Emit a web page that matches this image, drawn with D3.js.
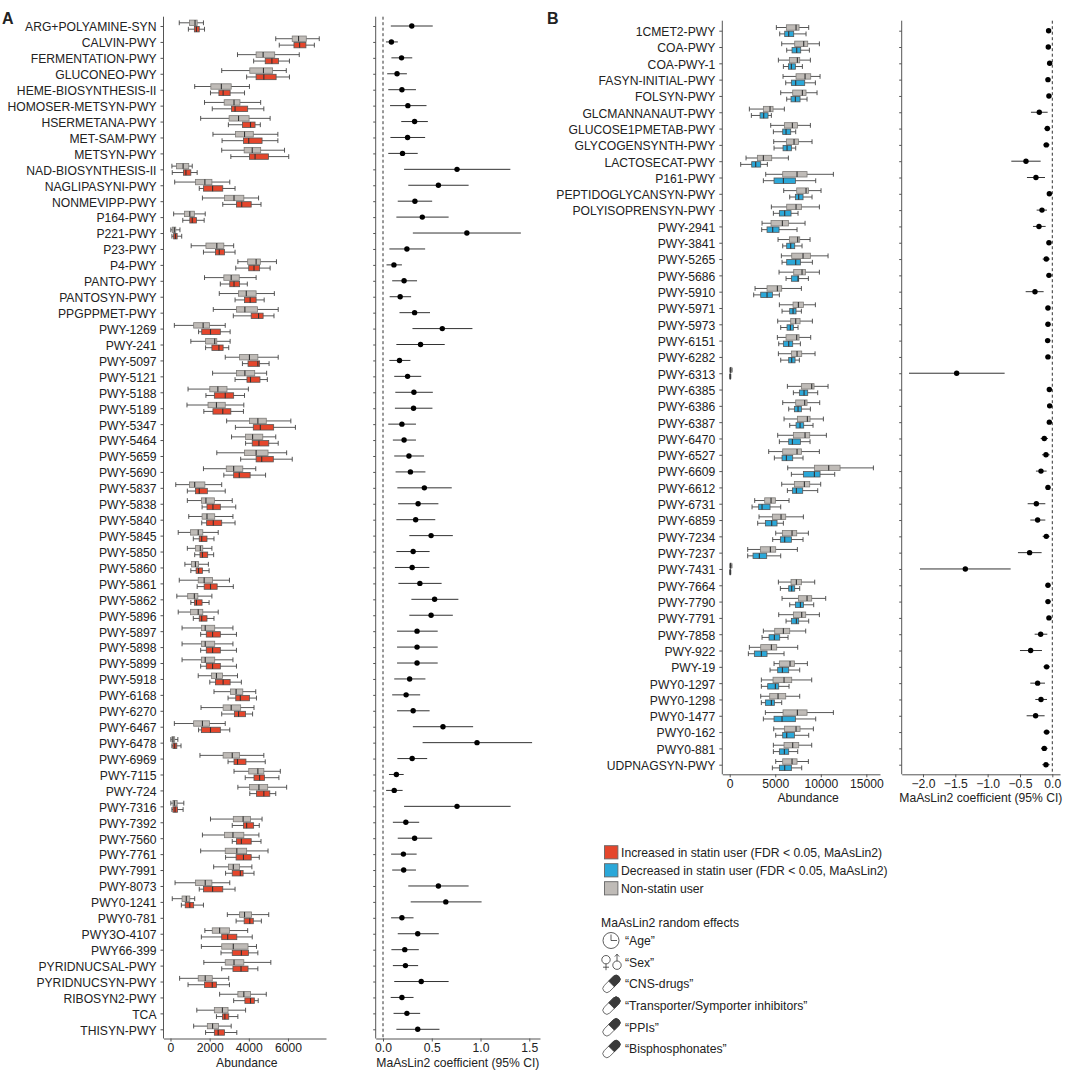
<!DOCTYPE html>
<html>
<head>
    <meta charset="utf-8">
    <style>
        html, body { margin: 0; padding: 0; background: #fff; }
        svg { display: block; }
        text { font-family: "Liberation Sans", Arial, sans-serif; fill: #222; }
        .axis text { font-size: 12.15px; fill: #222; }
        .axis path, .axis line { stroke: #555; stroke-width: 1; }
    </style>
</head>
<body>
    <svg width="1065" height="1071"></svg>

    <script src="https://d3js.org/d3.v7.min.js"></script>
    <script>
        // Panel A: pathways increased in statin users
        const pathwaysA = ["ARG+POLYAMINE-SYN","CALVIN-PWY","FERMENTATION-PWY","GLUCONEO-PWY","HEME-BIOSYNTHESIS-II","HOMOSER-METSYN-PWY","HSERMETANA-PWY","MET-SAM-PWY","METSYN-PWY","NAD-BIOSYNTHESIS-II","NAGLIPASYNI-PWY","NONMEVIPP-PWY","P164-PWY","P221-PWY","P23-PWY","P4-PWY","PANTO-PWY","PANTOSYN-PWY","PPGPPMET-PWY","PWY-1269","PWY-241","PWY-5097","PWY-5121","PWY-5188","PWY-5189","PWY-5347","PWY-5464","PWY-5659","PWY-5690","PWY-5837","PWY-5838","PWY-5840","PWY-5845","PWY-5850","PWY-5860","PWY-5861","PWY-5862","PWY-5896","PWY-5897","PWY-5898","PWY-5899","PWY-5918","PWY-6168","PWY-6270","PWY-6467","PWY-6478","PWY-6969","PWY-7115","PWY-724","PWY-7316","PWY-7392","PWY-7560","PWY-7761","PWY-7991","PWY-8073","PWY0-1241","PWY0-781","PWY3O-4107","PWY66-399","PYRIDNUCSAL-PWY","PYRIDNUCSYN-PWY","RIBOSYN2-PWY","TCA","THISYN-PWY"];

        // whisker low, q1, median, q3, whisker high
        const nonStatinA = [[448,968,1254,1362,1684],[5375,6217,6540,6935,7598],[3422,4372,4731,5322,6576],[2616,4050,4749,5215,5914],[1236,2061,2598,3100,4032],[1738,2742,3244,3548,4605],[1541,2993,3476,4014,5089],[2168,3315,3781,4229,5484],[2616,3763,4175,4605,5824],[72,305,645,932,1111],[215,1272,1756,2115,3028],[1631,2760,3244,3745,4498],[161,717,986,1219,1774],[18,90,197,269,484],[1057,1810,2365,2724,3226],[3441,3942,4373,4588,5412],[1738,2724,3100,3512,4373],[2491,3476,3871,4373,5304],[2186,3369,3799,4444,5501],[197,1183,1667,1989,2796],[1039,1792,2258,2365,3046],[2796,3530,4032,4462,5501],[2150,3369,3799,4301,4910],[896,2007,2419,2885,3978],[842,1917,2347,2796,3745],[2867,4032,4462,4892,6147],[3118,3835,4193,4713,5376],[2365,3781,4373,4982,5932],[1684,2849,3226,3692,4355],[269,968,1236,1756,2616],[860,1577,1810,2240,3154],[932,1613,1864,2258,3190],[394,1021,1416,1649,2437],[860,1272,1523,1649,2115],[735,1075,1272,1434,1935],[448,1416,1720,2150,3011],[323,878,1219,1398,2115],[394,1021,1416,1649,2437],[591,1577,1774,2258,3190],[591,1577,1774,2258,3190],[591,1577,1774,2258,3190],[1416,2097,2347,2652,3423],[2222,3064,3351,3692,4355],[1559,2688,3100,3584,4265],[197,1183,1631,1989,2796],[18,72,125,215,376],[1505,2688,3154,3530,4767],[3244,3996,4462,4767,5609],[3441,4032,4516,4964,5932],[18,125,197,340,681],[2043,3208,3709,4086,4677],[1631,2760,3190,3745,4516],[1541,2796,3387,3889,4982],[2204,2957,3208,3530,4157],[233,1272,1774,2115,3028],[90,591,806,986,1236],[2903,3530,3781,4140,5018],[1756,2133,2509,3011,3942],[1577,2616,3208,3960,4391],[1702,2796,3244,3745,5125],[466,1416,1774,2133,2975],[2509,3441,3745,4086,4892],[1344,2240,2652,2939,3835],[1183,1882,2150,2455,3100]];

        const statinA = [[914,1219,1326,1469,1738],[5555,6306,6594,6917,7347],[4247,4838,5179,5519,6075],[3889,4372,4767,5394,6075],[2043,2473,2688,3046,3781],[2133,3118,3297,3942,4767],[2957,3674,4086,4319,4588],[2634,3727,3996,4677,5484],[3082,4032,4319,5000,6039],[90,663,788,1039,1362],[1469,1684,2150,2670,3297],[2670,3369,3638,4122,4623],[627,986,1111,1326,1720],[72,161,251,340,573],[1684,2294,2491,2760,3297],[3333,3996,4265,4552,5089],[2545,3028,3244,3530,3924],[3297,3781,4068,4373,4785],[3208,4122,4498,4731,5286],[1434,1595,2043,2545,3046],[1792,2115,2473,2688,2975],[3674,3960,4462,4552,5035],[3297,3906,4086,4570,4946],[1810,2240,2796,3226,3781],[1702,2168,2670,3082,3727],[3315,4229,4588,5269,6380],[3835,4175,4516,5018,5501],[3584,4373,4659,5251,6218],[2724,3226,3512,4068,4856],[860,1272,1469,1882,2796],[1613,1864,2168,2545,3333],[1595,1846,2186,2616,3297],[1165,1469,1595,1864,2222],[1236,1505,1631,1900,2204],[1039,1308,1434,1631,1971],[1362,1720,2043,2383,3208],[1039,1219,1326,1613,1971],[1165,1469,1595,1864,2222],[1541,1828,2150,2545,3369],[1541,1828,2150,2545,3369],[1541,1828,2150,2545,3369],[2007,2294,2688,3046,3620],[2939,3333,3566,4032,4391],[2616,3262,3476,3835,4193],[1434,1577,2043,2545,3028],[72,125,215,323,538],[2939,3244,3423,3853,4839],[3817,4265,4552,4803,5537],[4050,4391,4767,5072,5376],[72,125,233,358,645],[3154,3727,3889,4247,4534],[3154,3369,3620,4122,4623],[2813,3351,3727,4122,4534],[2813,3154,3566,3709,4265],[1469,1684,2150,2670,3297],[556,753,986,1183,1684],[3351,3763,4050,4229,4641],[1577,2616,2921,3387,4175],[2580,3154,3620,3978,4462],[2616,3190,3602,3960,4462],[896,1738,2133,2347,3011],[3226,3799,4086,4283,4480],[2347,2652,2778,2975,3441],[1792,2240,2437,2760,3387]];

        // coefficient, CI low, CI high
        const coefA = [[.295,.08,.51],[.086,.03,.152],[.19,.086,.30],[.144,.043,.245],[.194,.054,.338],[.255,.072,.446],[.324,.187,.46],[.252,.076,.432],[.2,.054,.356],[.759,.216,1.306],[.568,.259,.878],[.327,.151,.504],[.403,.137,.673],[.86,.306,1.414],[.245,.065,.432],[.112,.036,.194],[.216,.094,.349],[.176,.068,.288],[.324,.169,.482],[.608,.302,.917],[.385,.137,.633],[.169,.065,.281],[.252,.115,.392],[.317,.126,.511],[.313,.122,.507],[.194,.054,.338],[.216,.101,.338],[.266,.115,.421],[.281,.129,.435],[.424,.147,.705],[.36,.155,.568],[.335,.137,.536],[.493,.27,.716],[.309,.137,.478],[.299,.122,.475],[.378,.158,.601],[.529,.291,.773],[.493,.27,.716],[.349,.144,.561],[.349,.144,.561],[.349,.144,.561],[.273,.115,.435],[.237,.094,.381],[.309,.144,.478],[.615,.306,.924],[.964,.406,1.529],[.299,.147,.453],[.137,.061,.212],[.115,.032,.201],[.759,.216,1.309],[.234,.101,.371],[.324,.151,.504],[.209,.083,.345],[.212,.094,.338],[.568,.259,.878],[.644,.284,1.011],[.194,.083,.313],[.356,.151,.572],[.223,.086,.367],[.23,.101,.36],[.392,.115,.673],[.194,.079,.313],[.245,.108,.381],[.356,.137,.579]];

        // Panel B: pathways decreased in statin users
        const pathwaysB = ["1CMET2-PWY","COA-PWY","COA-PWY-1","FASYN-INITIAL-PWY","FOLSYN-PWY","GLCMANNANAUT-PWY","GLUCOSE1PMETAB-PWY","GLYCOGENSYNTH-PWY","LACTOSECAT-PWY","P161-PWY","PEPTIDOGLYCANSYN-PWY","POLYISOPRENSYN-PWY","PWY-2941","PWY-3841","PWY-5265","PWY-5686","PWY-5910","PWY-5971","PWY-5973","PWY-6151","PWY-6282","PWY-6313","PWY-6385","PWY-6386","PWY-6387","PWY-6470","PWY-6527","PWY-6609","PWY-6612","PWY-6731","PWY-6859","PWY-7234","PWY-7237","PWY-7431","PWY-7664","PWY-7790","PWY-7791","PWY-7858","PWY-922","PWY-19","PWY0-1297","PWY0-1298","PWY0-1477","PWY0-162","PWY0-881","UDPNAGSYN-PWY"];

        const nonStatinB = [[5124,6222,7283,7613,8674],[5710,7137,8125,8564,9845],[5344,6551,7430,7686,8857],[5856,7283,8272,8894,9919],[5600,6917,7979,8381,9589],[2159,3697,4429,4758,6002],[4502,6002,6881,7430,8857],[4831,6222,7064,7540,9040],[1793,3038,3697,4612,6442],[3953,5819,7393,8491,11383],[5929,7357,8381,8638,10028],[4575,6259,7283,7869,9845],[3550,4538,5783,6442,8272],[5307,6551,7466,7686,8821],[5673,6808,8052,8857,10797],[5417,7027,7942,8308,9845],[2782,4099,5234,5710,7869],[5453,6954,7540,8089,9406],[5270,6698,7247,7723,9077],[5234,6185,7357,7613,8894],[5344,6771,7393,7906,9370],[30,60,100,160,260],[6332,7869,9004,9260,10797],[5819,7247,8235,8491,9882],[5966,7430,8528,8821,10285],[5270,6991,8272,8784,10614],[4282,5819,7393,7869,9845],[6368,9296,10870,12115,15775],[5710,7100,8198,8784,9992],[2745,3843,4538,5014,6515],[3221,4685,5636,6149,8089],[5051,5783,6844,7357,8638],[1976,3367,4465,5051,7430],[30,60,90,150,240],[5344,6734,7320,7869,9333],[5746,7540,8491,9004,10541],[5380,6991,7906,8345,9845],[3697,4941,5893,6588,8345],[2159,3404,4575,5161,7466],[4868,5453,6625,7100,8528],[3477,4758,5966,6808,9004],[3404,4392,5307,6149,7686],[3916,5856,7430,8491,11383],[4831,6002,7283,7723,9187],[4795,5966,6917,7576,9004],[5051,5819,6844,7393,8638]];

        const statinB = [[5490,6039,6478,7027,8381],[6259,6844,7357,7796,8747],[5893,6442,6771,7210,7979],[6149,6771,7247,8235,9406],[6259,6734,7210,7723,8491],[2379,3331,3733,4209,4575],[4795,5819,6185,6698,7247],[4868,5856,6295,6771,7247],[1208,2416,2855,3404,4136],[3697,4868,5893,7210,9443],[6588,7210,7576,8052,9040],[4795,5453,6039,6734,7503],[3514,4099,4721,5417,7393],[5819,6259,6698,7137,7942],[5746,6259,7247,7759,9077],[6185,6771,7503,7576,8638],[2635,3404,4099,4685,5453],[5746,6588,6954,7283,7869],[5600,6295,6661,6991,7503],[5380,5893,6478,6917,7759],[5600,6478,6808,7174,7649],[20,40,60,80,120],[6991,7649,8162,8564,9662],[6478,7100,7503,7869,8857],[6588,7283,7723,8125,9150],[5453,6478,6881,7759,8821],[4904,5746,6222,6917,8052],[6771,8089,9296,9919,11529],[6332,6881,7320,8015,9662],[2452,3184,3550,4429,5600],[3074,3916,4612,5197,5893],[4721,5563,6039,6771,8052],[1976,2562,3257,4063,5600],[20,40,60,80,120],[5563,6478,6808,7137,7686],[6588,7210,7759,8089,9223],[6185,6771,7320,7576,8674],[3550,4319,4904,5490,6405],[2050,2708,3477,4099,5966],[4429,5270,5783,6478,7686],[3477,4172,5014,5380,6515],[3477,3916,4575,4904,5710],[3697,4868,5746,7210,9443],[5051,5819,6259,7100,8674],[4795,5453,6002,6478,7466],[4685,5453,6039,6771,7906]];

        const coefB = [[-.057,-.093,-.02],[-.062,-.098,-.026],[-.041,-.077,-.005],[-.067,-.103,-.031],[-.052,-.088,-.015],[-.201,-.33,-.072],[-.077,-.124,-.031],[-.093,-.139,-.041],[-.407,-.634,-.18],[-.253,-.392,-.113],[-.046,-.077,-.015],[-.16,-.242,-.082],[-.206,-.299,-.103],[-.052,-.088,-.015],[-.093,-.149,-.036],[-.052,-.088,-.015],[-.268,-.412,-.134],[-.067,-.108,-.031],[-.067,-.108,-.026],[-.072,-.113,-.031],[-.067,-.108,-.031],[-1.479,-2.216,-.737],[-.046,-.082,-.015],[-.041,-.077,-.01],[-.046,-.082,-.015],[-.124,-.18,-.067],[-.098,-.16,-.041],[-.175,-.253,-.088],[-.067,-.103,-.031],[-.247,-.381,-.108],[-.227,-.34,-.108],[-.093,-.149,-.041],[-.351,-.531,-.165],[-1.345,-2.046,-.644],[-.067,-.108,-.026],[-.067,-.103,-.026],[-.052,-.088,-.01],[-.18,-.273,-.077],[-.335,-.5,-.16],[-.088,-.139,-.036],[-.227,-.34,-.113],[-.175,-.263,-.082],[-.258,-.397,-.119],[-.088,-.139,-.036],[-.124,-.175,-.072],[-.098,-.155,-.041]];

        const legendItems = ["Increased in statin user (FDR < 0.05, MaAsLin2)","Decreased in statin user (FDR < 0.05, MaAsLin2)","Non-statin user"];
        const randomEffects = ["“Age”","“Sex”","“CNS-drugs”","“Transporter/Symporter inhibitors”","“PPIs”","“Bisphosphonates”"];

        const RED = "#e5462c", BLUE = "#2ba8d9", GRAY = "#bfbbb7";
        const svg = d3.select("svg");

        function drawPanel(cfg) {
            const y = d3.scalePoint().domain(cfg.labels).range(cfg.rowRange);
            const xBox = d3.scaleLinear().domain(cfg.boxDomain).range(cfg.boxRange);
            const xCoef = d3.scaleLinear().domain(cfg.coefDomain).range(cfg.coefRange);

            // axes
            const yAxisBox = svg.append("g").attr("class", "axis")
                .attr("transform", `translate(${cfg.boxRange[0]},0)`)
                .call(d3.axisLeft(y).tickSize(3).tickSizeOuter(0));
            yAxisBox.select(".domain").attr("d", `M0,${cfg.top}V${cfg.bottom}`);
            yAxisBox.selectAll("text").attr("x", -7).attr("dy", "0.4em");

            const yAxisCoef = svg.append("g").attr("class", "axis")
                .attr("transform", `translate(${cfg.coefRange[0]},0)`)
                .call(d3.axisLeft(y).tickSize(2.5).tickSizeOuter(0).tickFormat(""));
            yAxisCoef.select(".domain").attr("d", `M0,${cfg.top}V${cfg.bottom}`);

            svg.append("g").attr("class", "axis")
                .attr("transform", `translate(0,${cfg.bottom})`)
                .call(d3.axisBottom(xBox).tickValues(cfg.boxTicks).tickFormat(d3.format("d")).tickSize(3).tickSizeOuter(0))
                .selectAll("text").attr("y", 5);

            svg.append("g").attr("class", "axis")
                .attr("transform", `translate(0,${cfg.bottom})`)
                .call(d3.axisBottom(xCoef).tickValues(cfg.coefTicks).tickFormat(d3.format(".1f")).tickSize(3).tickSizeOuter(0))
                .selectAll("text").attr("y", 5);

            svg.append("text").attr("x", d3.mean(cfg.boxRange) + cfg.boxTitleShift).attr("y", cfg.bottom + 28)
                .attr("text-anchor", "middle").attr("font-size", 12.15).text("Abundance");
            svg.append("text").attr("x", d3.mean(cfg.coefRange)).attr("y", cfg.bottom + 28)
                .attr("text-anchor", "middle").attr("font-size", 12.15).text("MaAsLin2 coefficient (95% CI)");

            // dashed line at zero
            svg.append("line")
                .attr("x1", xCoef(0)).attr("x2", xCoef(0))
                .attr("y1", cfg.top).attr("y2", cfg.bottom)
                .attr("stroke", "#333").attr("stroke-width", 1).attr("stroke-dasharray", "3,2.5");

            // box plots, non-statin above, statin below
            const groups = [
                { values: cfg.nonStatin, fill: GRAY, stroke: "#7d7b78", dy: -3.2 },
                { values: cfg.statin, fill: cfg.color, stroke: "#555", dy: 3.2 }
            ];
            groups.forEach(group => {
                const g = svg.append("g").selectAll("g")
                    .data(group.values)
                    .join("g")
                    .attr("transform", (d, i) => `translate(0,${y(cfg.labels[i]) + group.dy})`);

                g.append("line")
                    .attr("x1", d => xBox(d[0])).attr("x2", d => xBox(d[4]))
                    .attr("stroke", "#444").attr("stroke-width", 0.9);
                g.selectAll(".cap").data(d => [d[0], d[4]]).join("line")
                    .attr("class", "cap")
                    .attr("x1", d => xBox(d)).attr("x2", d => xBox(d))
                    .attr("y1", -2.4).attr("y2", 2.4)
                    .attr("stroke", "#444").attr("stroke-width", 0.9);
                g.append("rect")
                    .attr("x", d => xBox(d[1])).attr("width", d => xBox(d[3]) - xBox(d[1]))
                    .attr("y", -2.7).attr("height", 5.4)
                    .attr("fill", group.fill).attr("stroke", group.stroke).attr("stroke-width", 0.8);
                g.append("line")
                    .attr("x1", d => xBox(d[2])).attr("x2", d => xBox(d[2]))
                    .attr("y1", -2.7).attr("y2", 2.7)
                    .attr("stroke", "#333").attr("stroke-width", 1.1);
            });

            // coefficients with CI
            const c = svg.append("g").selectAll("g")
                .data(cfg.coef)
                .join("g")
                .attr("transform", (d, i) => `translate(0,${y(cfg.labels[i])})`);
            c.append("line")
                .attr("x1", d => xCoef(d[1])).attr("x2", d => xCoef(d[2]))
                .attr("stroke", "#333").attr("stroke-width", 1);
            c.append("circle")
                .attr("cx", d => xCoef(d[0])).attr("r", 2.7).attr("fill", "#000");
        }

        drawPanel({
            labels: pathwaysA, nonStatin: nonStatinA, statin: statinA, coef: coefA, color: RED,
            rowRange: [26, 1029.3], top: 16.7, bottom: 1038.5,
            boxDomain: [-357, 7942], boxRange: [163.5, 326], boxTicks: [0, 2000, 4000, 6000], boxTitleShift: 2,
            coefDomain: [-0.075, 1.61], coefRange: [375.7, 540], coefTicks: [0, 0.5, 1, 1.5]
        });

        drawPanel({
            labels: pathwaysB, nonStatin: nonStatinB, statin: statinB, coef: coefB, color: BLUE,
            rowRange: [30.7, 764.7], top: 20.7, bottom: 774.3,
            boxDomain: [-812, 16500], boxRange: [722.3, 880], boxTicks: [0, 5000, 10000, 15000], boxTitleShift: 7,
            coefDomain: [-2.329, 0.119], coefRange: [901.7, 1060], coefTicks: [-2, -1.5, -1, -0.5, 0]
        });

        // panel letters
        svg.append("text").attr("x", 2).attr("y", 24).attr("font-size", 16).attr("font-weight", "bold").text("A");
        svg.append("text").attr("x", 547).attr("y", 24).attr("font-size", 16).attr("font-weight", "bold").text("B");

        // legend
        const legendY = d3.scalePoint().domain(legendItems).range([852.3, 888.3]);
        const legendFill = d3.scaleOrdinal().domain(legendItems).range([RED, BLUE, GRAY]);
        const legend = svg.append("g").selectAll("g").data(legendItems).join("g")
            .attr("transform", d => `translate(604.5,${legendY(d)})`);
        legend.append("rect").attr("y", -6.6).attr("width", 13.4).attr("height", 13.2)
            .attr("fill", d => legendFill(d)).attr("stroke", "#666").attr("stroke-width", 0.9);
        legend.append("text").attr("x", 16.5).attr("dy", "0.36em").attr("font-size", 12.2).text(d => d);

        svg.append("text").attr("x", 601).attr("y", 926.5).attr("font-size", 12.2).text("MaAsLin2 random effects");

        const effectY = d3.scalePoint().domain(randomEffects).range([940.5, 1049]);
        const effect = svg.append("g").selectAll("g").data(randomEffects).join("g")
            .attr("transform", d => `translate(611,${effectY(d)})`);
        effect.append("text").attr("x", 14).attr("dy", "0.36em").attr("font-size", 12.2).text(d => d);

        const iconStroke = "#333";

        // clock
        const clock = effect.filter((d, i) => i === 0);
        clock.append("circle").attr("r", 8).attr("fill", "none").attr("stroke", iconStroke).attr("stroke-width", 0.8);
        clock.append("path").attr("d", "M0,-6V0H6").attr("fill", "none").attr("stroke", iconStroke).attr("stroke-width", 0.8);

        // female and male signs
        const sex = effect.filter((d, i) => i === 1);
        sex.append("circle").attr("cx", -5).attr("cy", -2.5).attr("r", 4.2).attr("fill", "none").attr("stroke", iconStroke).attr("stroke-width", 0.8);
        sex.append("path").attr("d", "M-5,1.7V8M-8,5H-2").attr("fill", "none").attr("stroke", iconStroke).attr("stroke-width", 0.8);
        sex.append("circle").attr("cx", 6).attr("cy", 3).attr("r", 4.2).attr("fill", "none").attr("stroke", iconStroke).attr("stroke-width", 0.8);
        sex.append("path").attr("d", "M6,-1.2V-8M3.8,-5.6L6,-8L8.2,-5.6").attr("fill", "none").attr("stroke", iconStroke).attr("stroke-width", 0.8);

        // pills
        const pill = effect.filter((d, i) => i > 1).append("g")
            .attr("transform", "translate(0.5,0) rotate(-45)");
        pill.append("rect").attr("x", -10.5).attr("y", -4).attr("width", 21).attr("height", 8).attr("rx", 4)
            .attr("fill", "#fff").attr("stroke", "#555").attr("stroke-width", 0.8);
        pill.append("path").attr("d", "M0,-4H6.5A4,4 0 0 1 6.5,4H0Z").attr("fill", "#3a3a3a").attr("stroke", "#3a3a3a").attr("stroke-width", 0.8);
    </script>
</body>
</html>
